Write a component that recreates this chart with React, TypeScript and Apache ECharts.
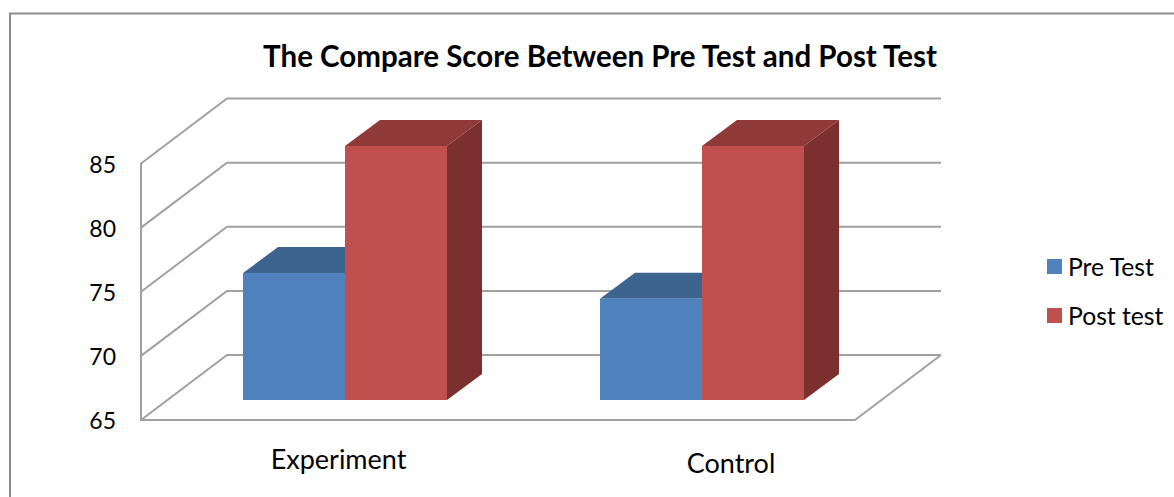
import React, { useEffect, useRef } from "react";
import * as echarts from "echarts";

const categories = ["Experiment", "Control"];
const preTest = [74.9, 72.9];
const postTest = [84.8, 84.8];
const yTicks = [65, 70, 75, 80, 85];
const seriesNames = ["Pre Test", "Post test"];

const FONT = "Lato, Carlito, sans-serif";
const LINE = "#a0a0a0";
const WALL_DX = 86;
const WALL_DY = -65;
const FRONT_DX = 25.5;
const FRONT_DY = -20;
const BAR_DX = 35;
const BAR_DY = -26;
const BAR_FRAC = 1 / 3.5;

function barRenderer(sign: number, front: string, top: string, side: string) {
  return (_p: any, api: any) => {
    const idx = api.value(0);
    const val = api.value(1);
    const band = api.size([1, 0])[0];
    const w = band * BAR_FRAC;
    const c = api.coord([idx, val]);
    const b = api.coord([idx, 65]);
    const x0 = c[0] + FRONT_DX + (sign < 0 ? -w : 0);
    const x1 = x0 + w;
    const yT = c[1] + FRONT_DY;
    const yB = b[1] + FRONT_DY;
    const poly = (points: number[][], fill: string) => ({
      type: "polygon",
      shape: { points },
      style: { fill, stroke: null },
      silent: true,
    });
    return {
      type: "group",
      children: [
        poly([[x1, yT], [x1 + BAR_DX, yT + BAR_DY], [x1 + BAR_DX, yB + BAR_DY], [x1, yB]], side),
        poly([[x0, yT], [x0 + BAR_DX, yT + BAR_DY], [x1 + BAR_DX, yT + BAR_DY], [x1, yT]], top),
        poly([[x0, yT], [x1, yT], [x1, yB], [x0, yB]], front),
      ],
    };
  };
}

function wallRenderer(params: any, api: any) {
  const v = api.value(0);
  const grid = params.coordSys;
  const y = api.coord([0, v])[1];
  const l = grid.x;
  const r = grid.x + grid.width;
  const points = [[l, y], [l + WALL_DX, y + WALL_DY], [r + WALL_DX, y + WALL_DY]];
  const children: any[] = [
    { type: "polyline", shape: { points }, style: { stroke: LINE, lineWidth: 2, fill: "none" } },
  ];
  if (v === yTicks[0]) {
    children.push({
      type: "line",
      shape: { x1: r, y1: y, x2: r + WALL_DX, y2: y + WALL_DY },
      style: { stroke: LINE, lineWidth: 2 },
    });
  }
  return { type: "group", children };
}

export default function App() {
  const ref = useRef<HTMLDivElement>(null);
  useEffect(() => {
    document.body.style.margin = "0";
    const chart = echarts.init(ref.current!, null, { renderer: "svg" });
    chart.setOption({
      animation: false,
      backgroundColor: "#ffffff",
      title: {
        text: "The Compare Score Between Pre Test and Post Test",
        left: 595,
        top: 35,
        textAlign: "center",
        textStyle: { fontFamily: FONT, fontWeight: "bold", fontSize: 29.5, color: "#000" },
      },
      legend: {
        left: 1042,
        top: 249,
        orient: "vertical",
        icon: "rect",
        itemWidth: 15,
        itemHeight: 15,
        itemGap: 24,
        data: seriesNames,
        selectedMode: false,
        textStyle: { fontFamily: FONT, fontSize: 24.7, color: "#000", padding: [0, 0, 0, 1] },
      },
      grid: { left: 141, top: 163.5, width: 714, height: 256.5 },
      xAxis: {
        type: "category",
        data: categories,
        axisLine: { show: true, lineStyle: { color: LINE, width: 2 } },
        axisTick: { show: false },
        axisLabel: {
          margin: 25,
          fontFamily: FONT,
          formatter: (v: string) => (v === categories[0] ? `{a|${v}}` : `{b|${v}}`),
          rich: {
            a: { fontFamily: FONT, fontSize: 27, color: "#000", padding: [0, 0, 0, 38] },
            b: { fontFamily: FONT, fontSize: 27, color: "#000", padding: [4, 0, 0, 109] },
          },
        },
      },
      yAxis: {
        type: "value",
        min: 65,
        max: 85,
        interval: 5,
        axisLine: { show: true, lineStyle: { color: LINE, width: 2 } },
        axisTick: { show: false },
        splitLine: { show: false },
        axisLabel: { margin: 25, fontFamily: FONT, fontSize: 23, color: "#000", padding: [2, 0, 0, 0] },
      },
      graphic: [
        {
          type: "polyline",
          shape: { points: [[10, 497], [10, 13.5], [1174, 13.5]] },
          style: { stroke: "#8c8c8c", lineWidth: 2, fill: "none" },
          silent: true,
        },
      ],
      series: [
        {
          type: "custom",
          name: "walls",
          coordinateSystem: "cartesian2d",
          renderItem: wallRenderer,
          data: yTicks.map((v) => [v]),
          encode: { x: -1, y: 0 },
          clip: false,
          silent: true,
          z: 1,
        },
        {
          type: "custom",
          name: seriesNames[0],
          coordinateSystem: "cartesian2d",
          renderItem: barRenderer(-1, "#4f81bd", "#3d648f", "#33547a"),
          data: preTest.map((v, i) => [i, v]),
          encode: { x: 0, y: 1 },
          itemStyle: { color: "#4f81bd" },
          clip: false,
          z: 2,
        },
        {
          type: "custom",
          name: seriesNames[1],
          coordinateSystem: "cartesian2d",
          renderItem: barRenderer(1, "#c0504d", "#8f3a39", "#7b302f"),
          data: postTest.map((v, i) => [i, v]),
          encode: { x: 0, y: 1 },
          itemStyle: { color: "#c0504d" },
          clip: false,
          z: 3,
        },
      ],
    });
    return () => chart.dispose();
  }, []);
  return <div ref={ref} style={{ width: 1174, height: 497 }} />;
}
